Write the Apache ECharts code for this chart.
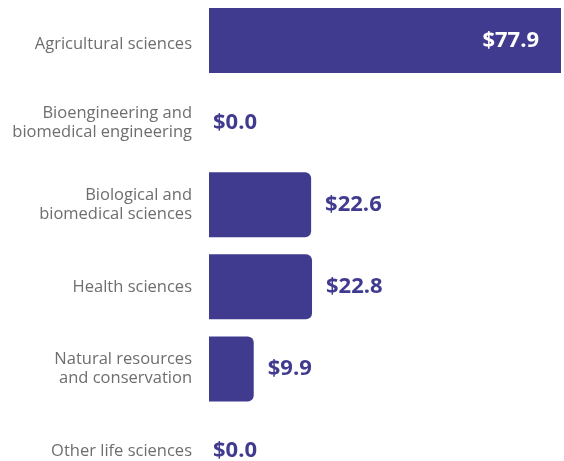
<!DOCTYPE html>
<html>
<head>
<meta charset="utf-8">
<script src="https://cdn.jsdelivr.net/npm/echarts@6/dist/echarts.min.js"></script>
<style>
  html, body { margin: 0; padding: 0; background: #fff; }
  #chart { width: 564px; height: 461px; }
</style>
</head>
<body>
<div id="chart"></div>
<script>
var categories = [
    'Agricultural sciences',
    'Bioengineering and\nbiomedical engineering',
    'Biological and\nbiomedical sciences',
    'Health sciences',
    'Natural resources\nand conservation',
    'Other life sciences'
];
var values = [77.9, 0.0, 22.6, 22.8, 9.9, 0.0];

var barColor = '#413b8f';

var myChart = echarts.init(document.getElementById('chart'));

var seriesData = values.map(function (v, i) {
    var item = {value: v};
    if (i === 0) {
        item.label = {position: 'insideRight', distance: 22, color: '#fff', padding: [4, 0, 0, 0]};
        item.itemStyle = {borderRadius: 0};
    } else if (v === 0) {
        item.label = {distance: 4};
    }
    return item;
});

var option = {
    animation: false,
    grid: {left: 209, right: 3, top: -0.5, height: 492.6, outerBoundsMode: 'none'},
    xAxis: {
        type: 'value',
        min: 0,
        max: 77.9,
        show: false
    },
    yAxis: {
        type: 'category',
        data: categories,
        inverse: true,
        axisLine: {show: false},
        axisTick: {show: false},
        axisLabel: {
            margin: 17,
            color: '#6e6e6e',
            fontSize: 16.5,
            lineHeight: 19,
            fontFamily: 'Open Sans',
            // first row label sits a little lower in the original
            formatter: function (val, idx) {
                return idx === 0 ? '{low|' + val + '}' : val;
            },
            rich: {
                low: {
                    color: '#6e6e6e',
                    fontSize: 16.5,
                    fontFamily: 'Open Sans',
                    padding: [7, 0, 0, 0]
                }
            }
        }
    },
    series: [{
        type: 'bar',
        barWidth: 65,
        data: seriesData,
        itemStyle: {color: barColor, borderRadius: [0, 6, 6, 0]},
        label: {
            show: true,
            position: 'right',
            distance: 14,
            color: barColor,
            fontSize: 22,
            fontWeight: 'bold',
            fontFamily: 'Open Sans',
            formatter: function (p) {
                return '$' + p.value.toFixed(1);
            }
        }
    }]
};

myChart.setOption(option);
</script>
</body>
</html>
